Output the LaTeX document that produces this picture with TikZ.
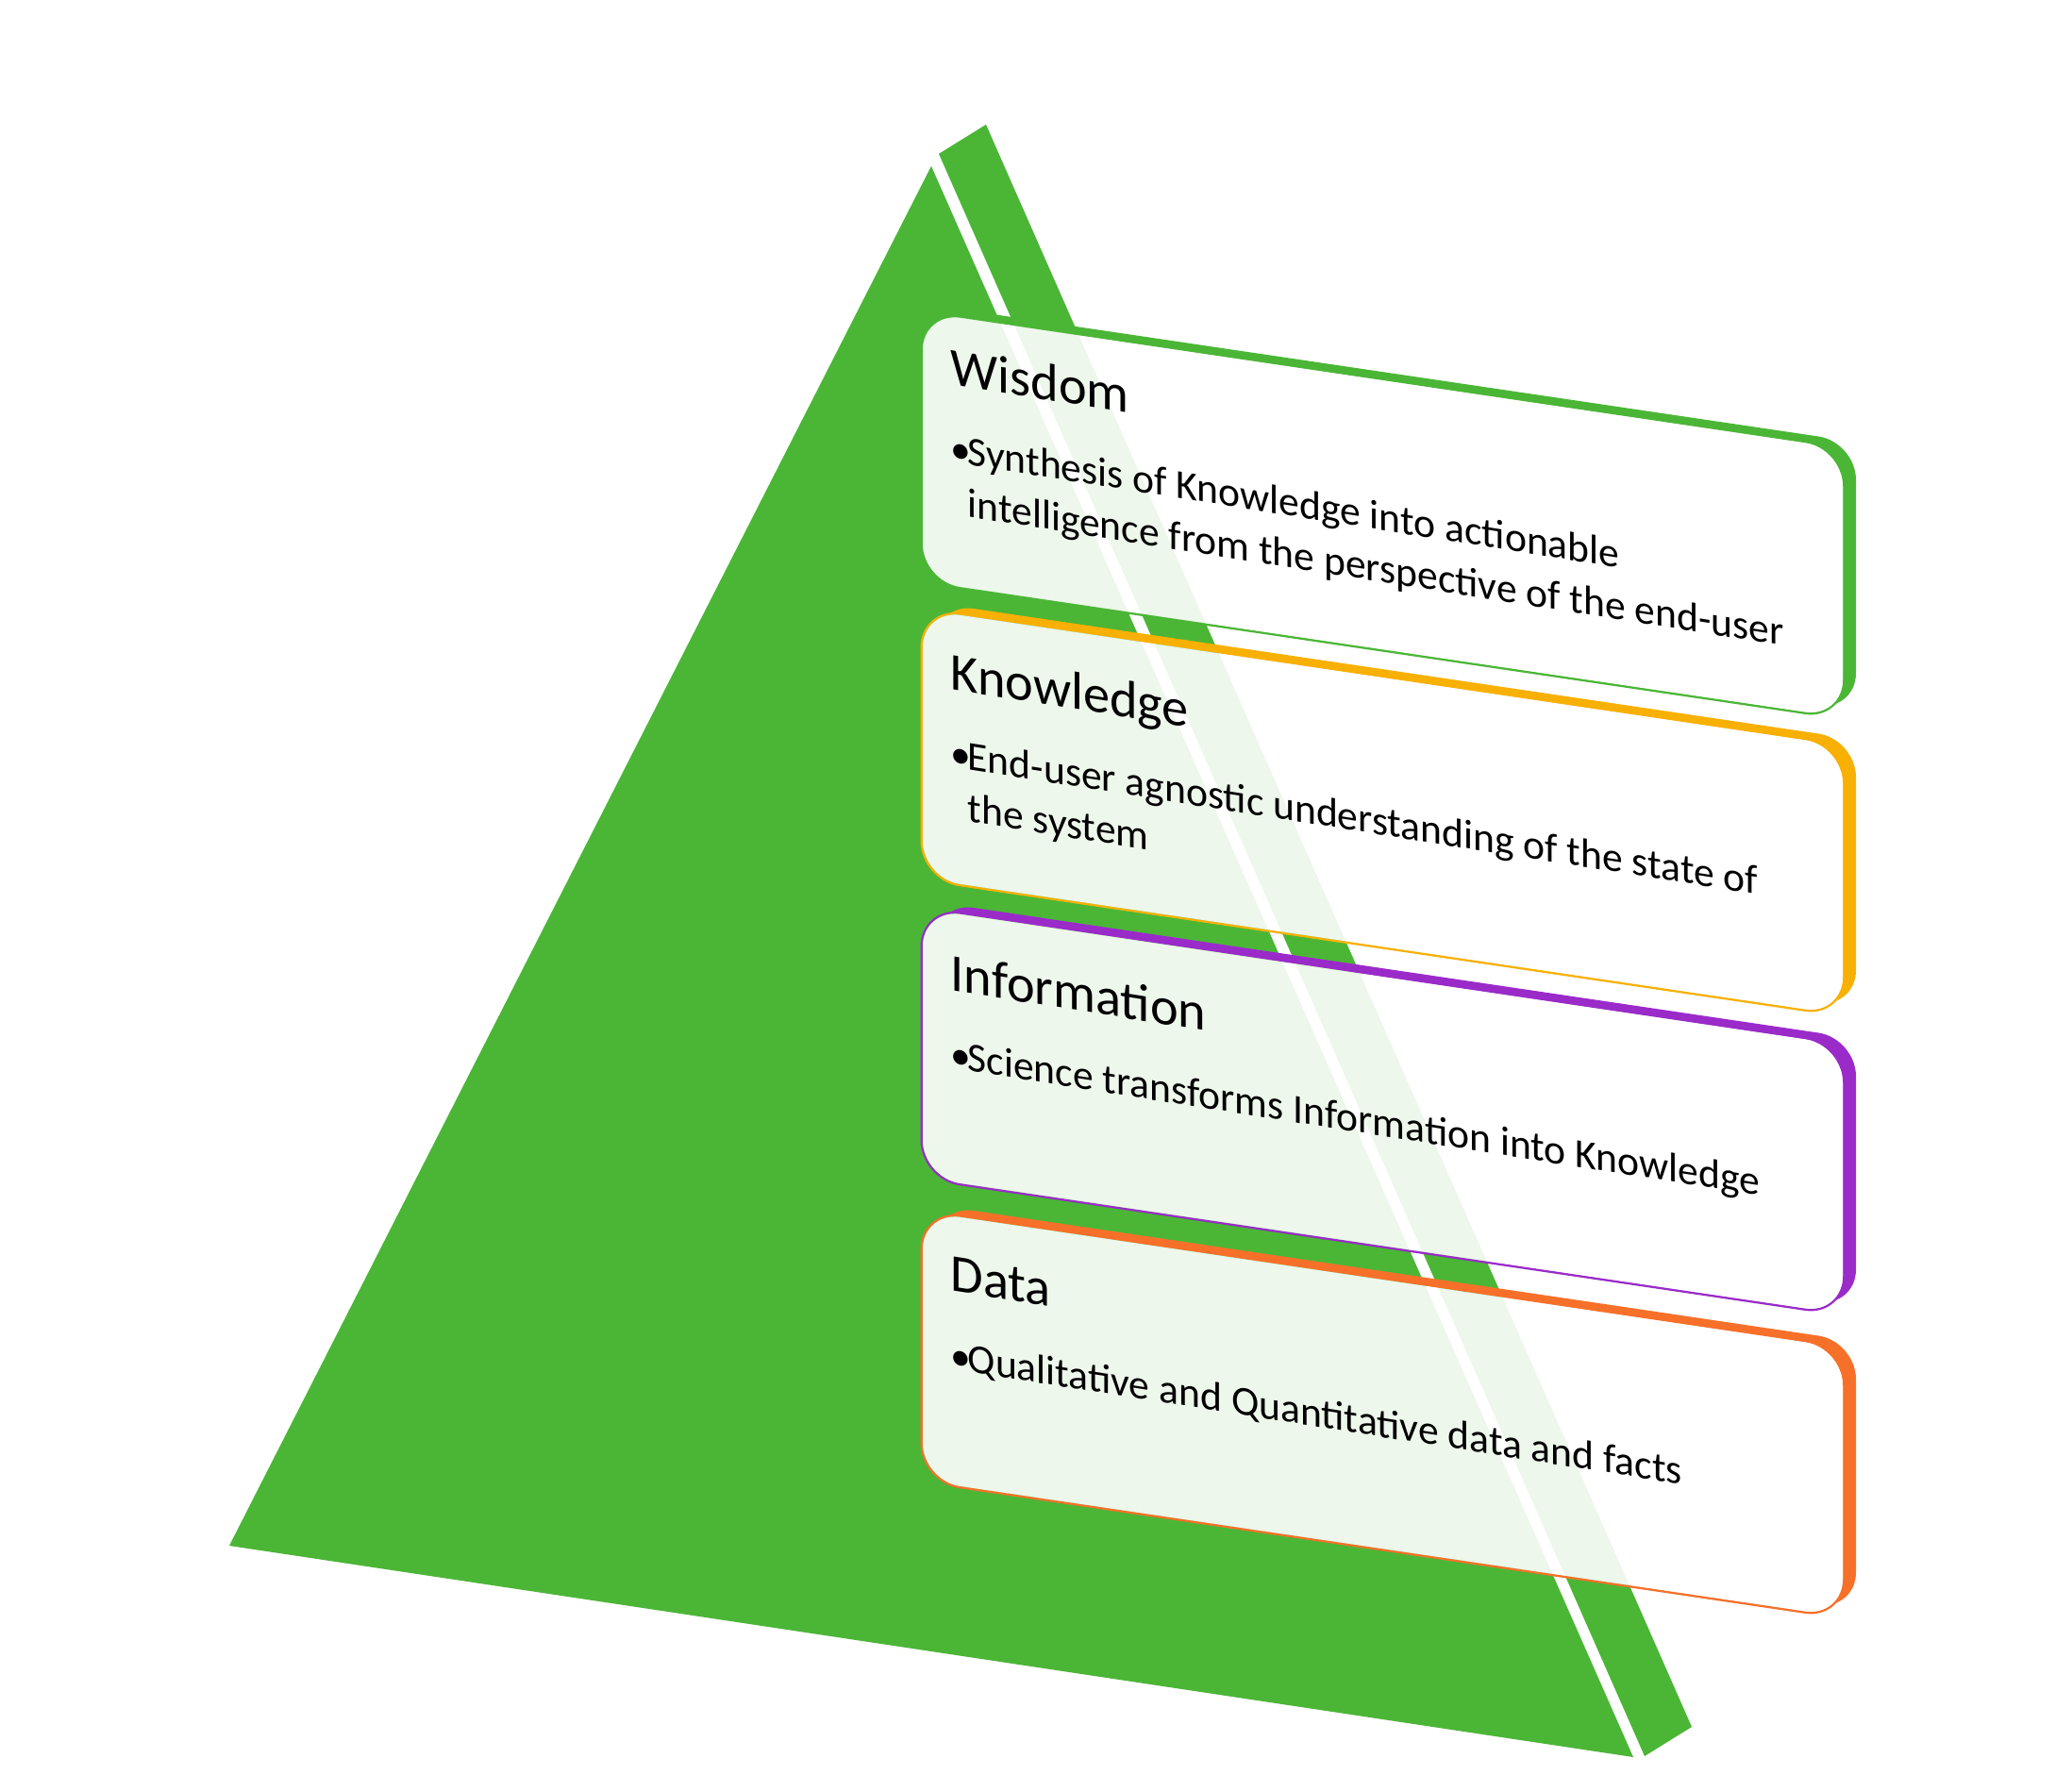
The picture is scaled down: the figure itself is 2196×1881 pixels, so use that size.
\documentclass[tikz,border=0pt]{standalone}
\usepackage{fontspec}
\setmainfont{Carlito}

\definecolor{pyrgreen}{RGB}{75,182,54}
\definecolor{wisdomc}{RGB}{75,182,54}
\definecolor{knowc}{RGB}{248,176,4}
\definecolor{infoc}{RGB}{154,43,201}
\definecolor{datac}{RGB}{247,112,42}

% the two green faces of the pyramid
\newcommand\pyrpieces{%
  \fill[pyrgreen] (987,176) -- (243,1638) -- (1731,1862) -- cycle;
  \fill[pyrgreen] (995,163) -- (1045,132) -- (1793,1830) -- (1743,1861) -- cycle;
}

% framed, slanted tier card in the frame colour #1
\newcommand\tierframe[1]{%
  \fill[#1, rounded corners=0.4cm] (14,-9) rectangle (989,276);
  \draw[#1, line width=1.4pt, rounded corners=0.4cm] (0,0) rectangle (975,285);
  \begin{scope}
    \clip[rounded corners=0.4cm] (0,0) rectangle (975,285);
    \fill[white] (-20,-60) rectangle (1000,320);
    \begin{scope}[reset cm]
      \pyrpieces
    \end{scope}
    \fill[white, opacity=0.9] (-20,-60) rectangle (1000,320);
  \end{scope}
}

\tikzset{
  tiertitle/.style={anchor=base west, inner sep=0pt, transform shape,
    font=\fontsize{16}{19}\selectfont},
  tierbody/.style={anchor=base west, inner sep=0pt, transform shape,
    font=\fontsize{12.4}{15}\selectfont},
  tier/.style={shift={(978,#1)}, yslant=-0.148},
  tiertext/.style={yslant=-0.01},
}

\begin{document}
\begin{tikzpicture}[x=0.01cm, y=-0.01cm]
  \useasboundingbox (0,0) rectangle (2196,1881);
  \fill[white] (0,0) rectangle (2196,1881);

  \pyrpieces

  % Wisdom
  \begin{scope}[tier=331]
    \tierframe{wisdomc}
    \begin{scope}[tiertext]
      \node[tiertitle] (wt) at (29,72) {Wisdom};
      \node[tierbody] (wb) at (29,154) {•};
      \node[tierbody] (w1) at (47,154) {Synthesis of Knowledge into actionable};
      \node[tierbody] (w2) at (47,209) {intelligence from the perspective of the end-user};
    \end{scope}
  \end{scope}

  % Knowledge
  \begin{scope}[tier=646]
    \tierframe{knowc}
    \begin{scope}[tiertext]
      \node[tiertitle] (kt) at (29,80) {Knowledge};
      \node[tierbody] (kb) at (29,162) {•};
      \node[tierbody] (k1) at (47,162) {End-user agnostic understanding of the state of};
      \node[tierbody] (k2) at (47,217) {the system};
    \end{scope}
  \end{scope}

  % Information
  \begin{scope}[tier=963]
    \tierframe{infoc}
    \begin{scope}[tiertext]
      \node[tiertitle] (it) at (29,82) {Information};
      \node[tierbody] (ib) at (29,164) {•};
      \node[tierbody] (i1) at (47,164) {Science transforms Information into Knowledge};
    \end{scope}
  \end{scope}

  % Data
  \begin{scope}[tier=1284]
    \tierframe{datac}
    \begin{scope}[tiertext]
      \node[tiertitle] (dt) at (29,79) {Data};
      \node[tierbody] (db) at (29,162) {•};
      \node[tierbody] (d1) at (47,162) {Qualitative and Quantitative data and facts};
    \end{scope}
  \end{scope}
\end{tikzpicture}
\end{document}
